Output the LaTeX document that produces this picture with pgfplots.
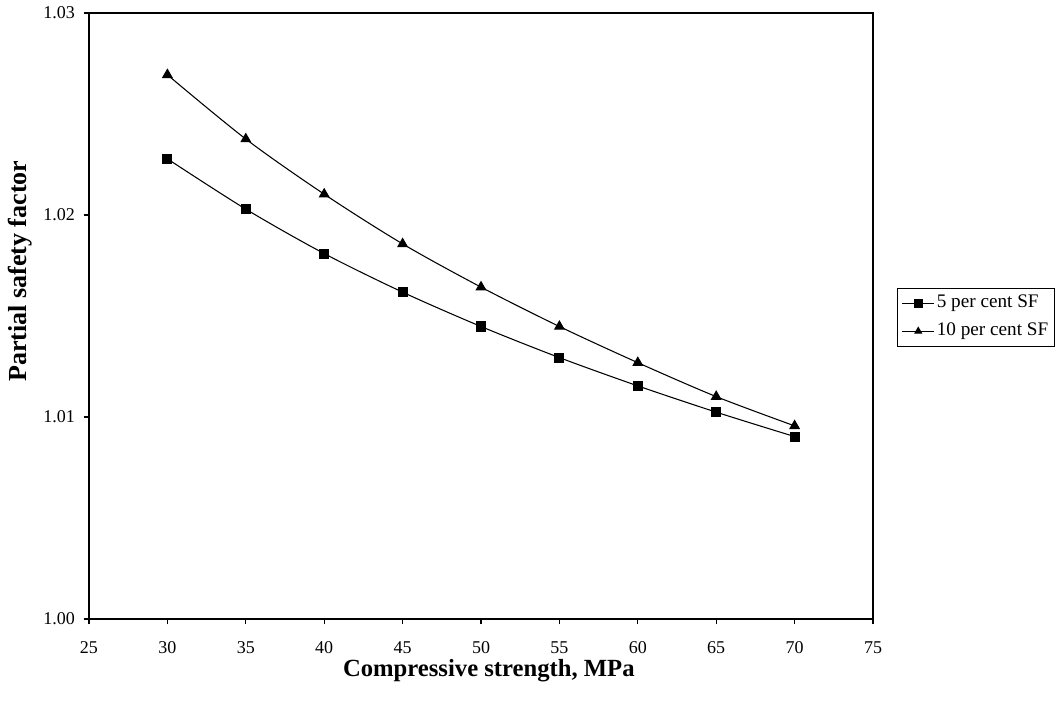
\documentclass[border=0pt]{standalone}
\usepackage{fontspec}
\setmainfont{Liberation Serif}
\usepackage{pgfplots}
\pgfplotsset{compat=1.18}
\begin{document}
\begin{tikzpicture}
\useasboundingbox (-66.75pt,-62.25pt) rectangle (727.5pt,464.25pt);
\begin{axis}[
  scale only axis,
  width=588pt, height=454.5pt,
  xmin=25, xmax=75, ymin=1.00, ymax=1.03,
  xtick={25,30,...,75},
  ytick={1.00,1.01,1.02,1.03},
  yticklabel style={xshift=-3pt, /pgf/number format/.cd,fixed,fixed zerofill,precision=2},
  /pgf/number format/assume math mode=true,
  tick align=outside,
  xtick pos=bottom, ytick pos=left,
  major tick length=4pt,
  axis line style={line width=0.8pt},
  every tick/.style={line width=0.8pt, black},
  ticklabel style={font=\fontsize{13.5}{15}\selectfont},
  xticklabel style={yshift=-9pt, text height=9.4pt, text depth=0pt},
  xlabel={\textbf{Compressive strength, MPa}},
  ylabel={\textbf{Partial safety factor}},
  xlabel style={at={(rel axis cs:0.51,0)}, anchor=base, yshift=-43.5pt, font=\fontsize{18.5}{20}\selectfont},
  every axis y label/.style={at={(rel axis cs:0,0.574)}, rotate=90, anchor=center, yshift=51.75pt, font=\fontsize{19.5}{21}\selectfont},
  legend style={at={(rel axis cs:1.031,0.547)}, anchor=north west,
    draw=black, line width=0.6pt, font=\fontsize{14.4}{16}\selectfont,
    inner xsep=3pt, inner ysep=3.5pt, row sep=5pt,
    nodes={inner sep=1.5pt, text height=10pt, text depth=3pt},
    /tikz/every even column/.append style={column sep=6pt}},
  legend cell align=left,
  legend image code/.code={
    \draw[#1, mark repeat=2, mark phase=2, mark size=2.8pt] plot coordinates {(0pt,0pt) (12pt,0pt) (24pt,0pt)};},
]
\addplot[black, line width=0.8pt, smooth, mark=square*, mark size=3.4pt,
  mark options={solid}] coordinates {
  (30,1.02278) (35,1.02029) (40,1.01809) (45,1.01618) (50,1.01448)
  (55,1.01294) (60,1.01154) (65,1.01024) (70,1.00903)};
\addlegendentry{5 per cent SF}
\addplot[black, line width=0.8pt, smooth, mark=triangle*, mark size=4pt,
  mark options={solid}] coordinates {
  (30,1.02694) (35,1.02376) (40,1.02103) (45,1.01857) (50,1.01643)
  (55,1.01448) (60,1.01269) (65,1.01101) (70,1.00956)};
\addlegendentry{10 per cent SF}
\end{axis}
\end{tikzpicture}
\end{document}
